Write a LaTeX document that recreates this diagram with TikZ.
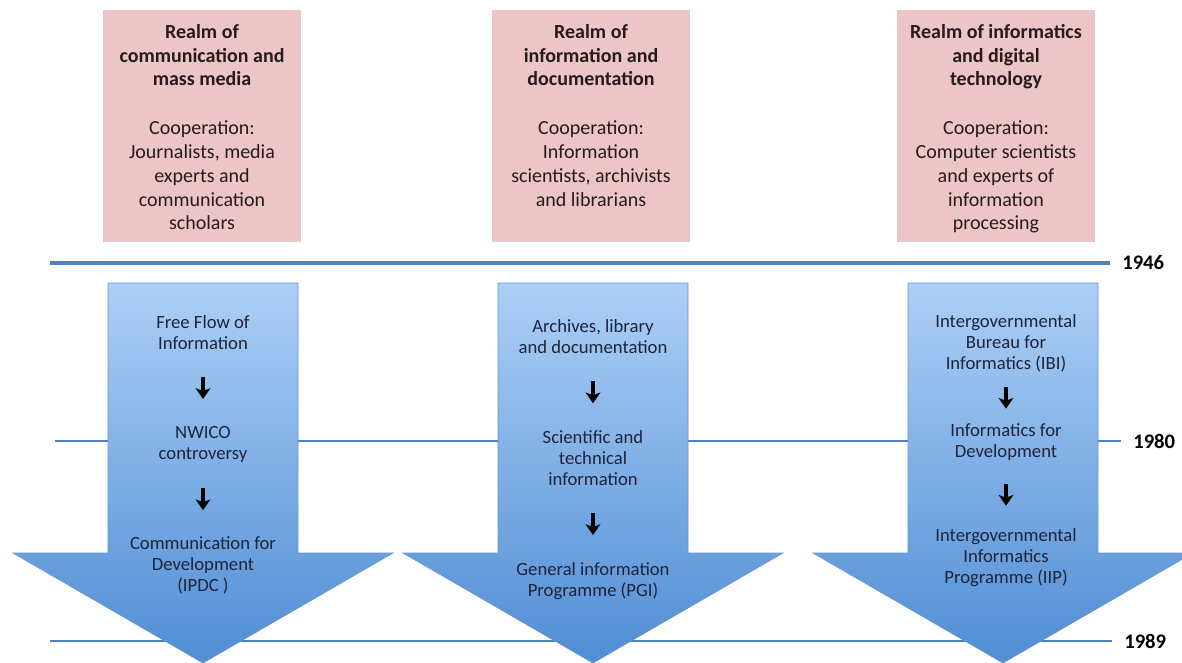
\documentclass[tikz,border=0pt]{standalone}
\usepackage{fontspec}
\setmainfont{Carlito}
\usepackage{tikz}
\usetikzlibrary{arrows.meta}
\usetikzlibrary{calc}
\definecolor{realmpink}{RGB}{236,198,198}
\definecolor{timeline}{RGB}{79,129,189}
\definecolor{arrowtop}{RGB}{172,207,246}
\definecolor{arrowbot}{RGB}{80,141,212}
\definecolor{arrowedge}{RGB}{104,150,206}
\definecolor{navytext}{RGB}{30,36,58}
\definecolor{realmtext}{RGB}{38,26,28}

\tikzset{
  realm/.style={fill=realmpink, minimum width=148.5pt, minimum height=174pt, inner sep=0pt},
  realmlabel/.style={anchor=north, align=center, inner sep=0pt, text=realmtext,
    font=\fontsize{15}{17.8}\selectfont},
  stage/.style={align=center, inner sep=1pt, text=navytext,
    font=\fontsize{14}{15.8}\selectfont},
  year/.style={anchor=west, inner xsep=9pt, inner ysep=2pt,
    font=\fontsize{15.5}{17}\selectfont\bfseries},
  yearline/.style={draw=timeline, line width=2pt},
  flow/.style={line width=2.6pt, -{Stealth[length=8pt,width=11pt,inset=2pt]},
    to path={($(\tikztostart.south)!0.5!(\tikztotarget.north)$) ++(0,-11) -- ++(0,22)}}
}

\begin{document}
\begin{tikzpicture}[x=0.75pt,y=-0.75pt]
  \useasboundingbox (0,0) rectangle (1182,663);

  % realms
  \node[realm] (r1) at (202,126) {};
  \node[realm] (r2) at (591,126) {};
  \node[realm] (r3) at (996,126) {};
  \node[realmlabel] (r1t) at (202,24)
    {\bfseries Realm of\\ \bfseries communication and\\ \bfseries mass media\\[19pt]
     Cooperation:\\ Journalists, media\\ experts and\\ communication\\ scholars};
  \node[realmlabel] (r2t) at (591,24)
    {\bfseries Realm of\\ \bfseries information and\\ \bfseries documentation\\[19pt]
     Cooperation:\\ Information\\ scientists, archivists\\ and librarians};
  \node[realmlabel] (r3t) at (996,24)
    {\bfseries Realm of informatics\\ \bfseries and digital\\ \bfseries technology\\[19pt]
     Cooperation:\\ Computer scientists\\ and experts of\\ information\\ processing};

  % time lines
  \coordinate (t46) at (50,263);
  \coordinate (t80) at (55,441);
  \coordinate (t89) at (50,641);
  \node[year] (y46) at (1110,263) {1946};
  \node[year] (y80) at (1121,441) {1980};
  \node[year] (y89) at (1112,641) {1989};
  \draw[yearline, line width=3pt] (t46) -- (y46);
  \draw[yearline] (t80) -- (y80);
  \draw[yearline] (t89) -- (y89);

  % big arrows
  \foreach \cx in {203,593,1003}
    \shade[top color=arrowtop, bottom color=arrowbot, draw=arrowedge, line width=0.5pt]
      (\cx-95,283) -- (\cx+95,283) -- (\cx+95,553) -- (\cx+190,553)
      -- (\cx,663) -- (\cx-190,553) -- (\cx-95,553) -- cycle;

  % stages
  \node[stage] (ffi) at (203,333) {Free Flow of\\ Information};
  \node[stage] (nwico) at (203,444) {NWICO\\ controversy};
  \node[stage] (ipdc) at (203,565) {Communication for\\ Development\\ (IPDC )};
  \node[stage] (adoc) at (593,337) {Archives, library\\ and documentation};
  \node[stage] (sti) at (593,458) {Scientific and\\ technical\\ information};
  \node[stage] (pgi) at (593,581) {General information\\ Programme (PGI)};
  \node[stage] (ibi) at (1006,343) {Intergovernmental\\ Bureau for\\ Informatics (IBI)};
  \node[stage] (ifd) at (1006,442) {Informatics for\\ Development};
  \node[stage] (iip) at (1006,558) {Intergovernmental\\ Informatics\\ Programme (IIP)};

  \draw[flow] (ffi) to (nwico);
  \draw[flow] (nwico) to (ipdc);
  \draw[flow] (adoc) to (sti);
  \draw[flow] (sti) to (pgi);
  \draw[flow] (ibi) to (ifd);
  \draw[flow] (ifd) to (iip);
\end{tikzpicture}
\end{document}
